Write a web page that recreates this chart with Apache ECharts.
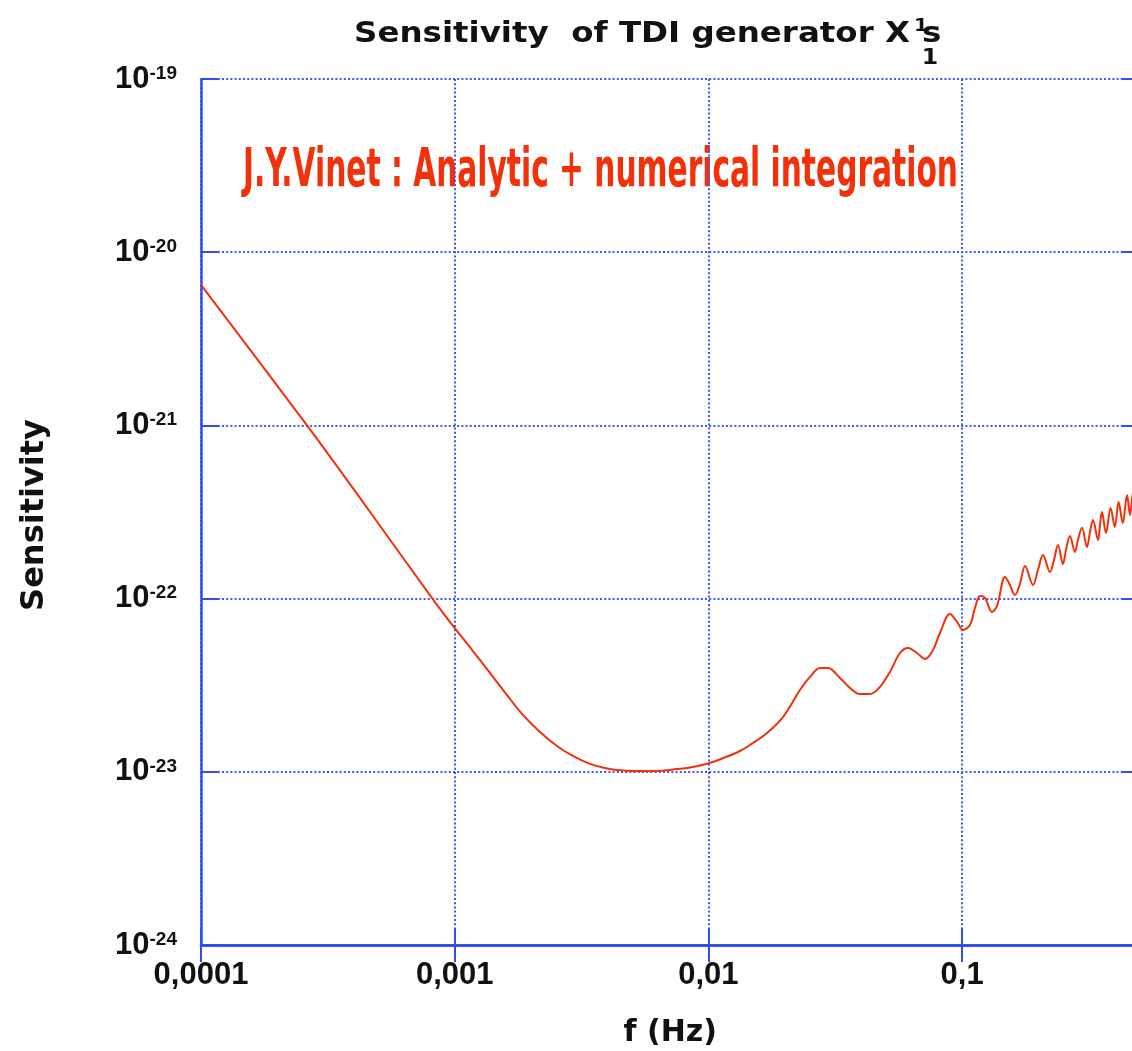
<!DOCTYPE html>
<html>
<head>
<meta charset="utf-8">
<script src="https://cdn.jsdelivr.net/npm/echarts@6/dist/echarts.min.js"></script>
<style>
  html, body { margin: 0; padding: 0; background: #ffffff; }
  #chart { width: 1132px; height: 1051px; }
</style>
</head>
<body>
<div id="chart"></div>
<script>
// Frequency (Hz) of each sample along the sensitivity curve
const freqHz = [
  1e-4, 2.64e-4, 4.64e-4, 8.13e-4, 9.85e-4,
  1.18e-3, 1.377e-3, 1.608e-3, 1.858e-3, 2.169e-3, 2.53e-3, 2.925e-3, 3.415e-3, 3.985e-3, 4.61e-3,
  5.37e-3, 6.27e-3, 7.25e-3, 8.46e-3, 9.96e-3, 1.162e-2, 1.332e-2, 1.459e-2, 1.702e-2, 1.968e-2,
  2.297e-2, 2.515e-2, 2.754e-2, 2.96e-2, 3.30e-2, 3.614e-2, 3.958e-2, 4.335e-2, 4.746e-2,
  5.197e-2, 5.69e-2, 6.12e-2, 6.64e-2, 7.14e-2, 7.68e-2, 8.18e-2, 8.96e-2, 9.55e-2,
  0.1008, 0.1074, 0.1124, 0.1177, 0.1231, 0.1312, 0.1373, 0.1476, 0.1531, 0.1616,
  0.1691, 0.1770, 0.1904, 0.1991, 0.2084, 0.2221, 0.2303, 0.2388, 0.2498, 0.2567,
  0.2662, 0.2786, 0.2862, 0.2969, 0.3107, 0.3192, 0.3281, 0.3434, 0.3497, 0.3560,
  0.3692, 0.385, 0.400, 0.414, 0.430, 0.447, 0.459, 0.474, 0.489, 0.5
];

// Sensitivity of the X1s1 generator at those frequencies
const sensitivity = [
  6.47e-21, 9.83e-22, 3.16e-22, 1.01e-22, 6.95e-23,
  4.98e-23, 3.72e-23, 2.77e-23, 2.13e-23, 1.698e-23, 1.409e-23, 1.234e-23, 1.11e-23, 1.045e-23, 1.017e-23,
  1.011e-23, 1.011e-23, 1.031e-23, 1.059e-23, 1.117e-23, 1.21e-23, 1.318e-23, 1.428e-23, 1.675e-23, 2.07e-23,
  2.965e-23, 3.53e-23, 3.97e-23, 3.97e-23, 3.48e-23, 3.05e-23, 2.81e-23, 2.81e-23, 3.09e-23,
  3.77e-23, 4.85e-23, 5.19e-23, 4.85e-23, 4.48e-23, 5.05e-23, 6.33e-23, 8.15e-23, 7.33e-23,
  6.59e-23, 7.04e-23, 8.83e-23, 1.035e-22, 1.01e-22, 8.37e-23, 9.06e-23, 1.333e-22, 1.23e-22, 1.05e-22,
  1.214e-22, 1.542e-22, 1.198e-22, 1.462e-22, 1.786e-22, 1.425e-22, 1.671e-22, 2.04e-22, 1.585e-22, 1.91e-22,
  2.30e-22, 1.858e-22, 2.18e-22, 2.56e-22, 1.985e-22, 2.42e-22, 2.84e-22, 2.18e-22, 2.66e-22, 3.16e-22,
  2.39e-22, 3.33e-22, 2.59e-22, 3.61e-22, 2.73e-22, 3.96e-22, 3.04e-22, 4.24e-22, 3.25e-22, 3.9e-22
];

// Axis ticks and their labels
const xTickValues = [1e-4, 1e-3, 1e-2, 1e-1];
const xTickLabels = ['0,0001', '0,001', '0,01', '0,1'];
const yTickExponents = [-24, -23, -22, -21, -20, -19];

const AXIS_BLUE = '#2f4ef2';
const GRID_BLUE = '#3a5af4';
const CURVE_RED = '#f2300a';
const INK = '#111111';
const NARROW = '"Liberation Sans Narrow", "DejaVu Sans Condensed", "Liberation Sans", sans-serif';
const HELV = '"Liberation Sans", Arial, sans-serif';

const chart = echarts.init(document.getElementById('chart'), null, { renderer: 'canvas' });

function textWidth(text, font) {
  const ctx = document.createElement('canvas').getContext('2d');
  ctx.font = font;
  return ctx.measureText(text).width;
}

function xLabel(v) {
  const i = xTickValues.findIndex(t => Math.abs(Math.log10(t) - Math.log10(v)) < 1e-6);
  return i >= 0 ? xTickLabels[i] : '';
}

function yLabel(v) {
  const e = Math.round(Math.log10(v));
  if (Math.abs(Math.log10(v) - e) > 1e-6 || yTickExponents.indexOf(e) < 0) return '';
  return '{b|10}{s|' + e + '}';
}

// Title pieces, compressed horizontally to a condensed look
const titleMain = 'Sensitivity  of TDI generator X';
const titleFont = 'bold 29px ' + NARROW;
const titleScale = 556 / textWidth(titleMain, titleFont);

const noteText = 'J.Y.Vinet : Analytic + numerical integration';
const noteFont = 'bold 54px ' + NARROW;
const noteScale = 715 / textWidth(noteText, noteFont);

const curve = freqHz.map((f, i) => [f, sensitivity[i]]);

const tickStyle = { show: true, inside: true, length: 17, lineStyle: { color: AXIS_BLUE, width: 2 } };
const lineStyle = { show: true, lineStyle: { color: AXIS_BLUE, width: 2.5 } };
const gridStyle = { show: true, lineStyle: { color: GRID_BLUE, width: 2, type: [2, 2.2] } };

chart.setOption({
  backgroundColor: '#ffffff',
  animation: false,
  grid: { left: 201, top: 79, width: 938.4, height: 866, containLabel: false, outerBoundsMode: 'none' },
  xAxis: [
    {
      type: 'log', logBase: 10, min: 1e-4, max: 0.5,
      position: 'bottom',
      axisLine: lineStyle,
      axisTick: tickStyle,
      splitLine: gridStyle,
      axisLabel: {
        margin: 15, formatter: xLabel, color: INK, showMinLabel: true,
        fontFamily: HELV, fontWeight: 'bold', fontSize: 31, lineHeight: 31
      },
      name: 'f (Hz)', nameLocation: 'middle', nameGap: 73,
      nameTextStyle: { fontFamily: '"DejaVu Sans", sans-serif', fontWeight: 'bold', fontSize: 30, color: INK }
    },
    {
      type: 'log', logBase: 10, min: 1e-4, max: 0.5,
      position: 'top',
      axisLine: lineStyle,
      axisTick: tickStyle,
      splitLine: { show: false },
      axisLabel: { show: false }
    }
  ],
  yAxis: [
    {
      // lower bound a hair below 1e-24 so the 1e-24 tick is an ordinary labelled tick
      type: 'log', logBase: 10, min: 0.9995e-24, max: 1e-19,
      position: 'left',
      axisLine: lineStyle,
      axisTick: tickStyle,
      splitLine: gridStyle,
      axisLabel: {
        margin: 24, formatter: yLabel, showMinLabel: true, showMaxLabel: true, hideOverlap: false,
        rich: {
          b: { fontFamily: HELV, fontWeight: 'bold', fontSize: 31, lineHeight: 30, color: INK },
          s: { fontFamily: HELV, fontWeight: 'bold', fontSize: 19, lineHeight: 19, color: INK, verticalAlign: 'top' }
        }
      }
    },
    {
      type: 'log', logBase: 10, min: 0.9995e-24, max: 1e-19,
      position: 'right',
      axisLine: lineStyle,
      axisTick: tickStyle,
      splitLine: { show: false },
      axisLabel: { show: false }
    }
  ],
  graphic: [
    {
      type: 'text', x: 354, y: 34.5, scaleX: titleScale, silent: true,
      style: { text: titleMain, font: titleFont, fill: INK, textAlign: 'left', textVerticalAlign: 'middle' }
    },
    {
      type: 'text', x: 914, y: 26.5, scaleX: titleScale, silent: true,
      style: { text: '1', font: 'bold 18px ' + NARROW, fill: INK, textAlign: 'left', textVerticalAlign: 'middle' }
    },
    {
      type: 'text', x: 922, y: 34.5, scaleX: titleScale, silent: true,
      style: { text: 's', font: titleFont, fill: INK, textAlign: 'left', textVerticalAlign: 'middle' }
    },
    {
      type: 'text', x: 930, y: 58.5, scaleX: titleScale, silent: true,
      style: { text: '1', font: 'bold 21px ' + NARROW, fill: INK, textAlign: 'center', textVerticalAlign: 'middle' }
    },
    {
      type: 'text', x: 243, y: 172, scaleX: noteScale, silent: true,
      style: { text: noteText, font: noteFont, fill: CURVE_RED, textAlign: 'left', textVerticalAlign: 'middle' }
    },
    {
      // vertical axis title
      type: 'text', x: 35, y: 515, rotation: Math.PI / 2, silent: true,
      style: { text: 'Sensitivity', font: 'bold 32px "DejaVu Sans", sans-serif', fill: INK, textAlign: 'center', textVerticalAlign: 'middle' }
    }
  ],
  series: [
    {
      type: 'line', xAxisIndex: 0, yAxisIndex: 0,
      data: curve, showSymbol: false, symbol: 'none',
      smooth: 0.35, clip: true,
      lineStyle: { color: CURVE_RED, width: 2 }
    }
  ]
});
</script>
</body>
</html>
